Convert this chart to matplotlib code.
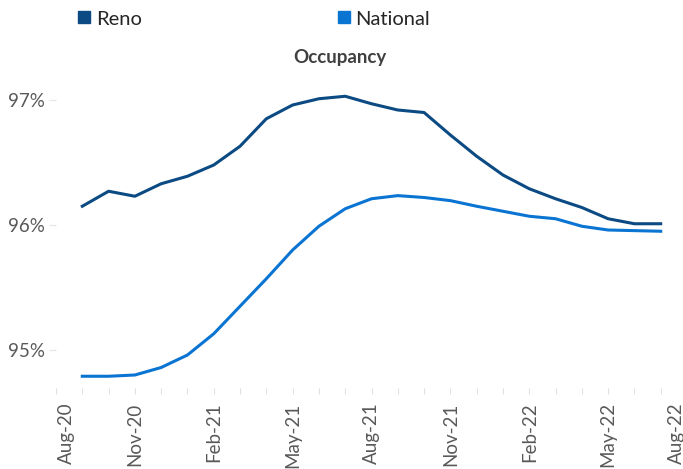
import matplotlib
matplotlib.use('Agg')
import matplotlib.pyplot as plt
import matplotlib.transforms as mtransforms
from matplotlib.lines import Line2D

# months Aug-20 .. Aug-22, data from Sep-20 to Jul-22
month_labels = ['Aug-20', 'Nov-20', 'Feb-21', 'May-21', 'Aug-21',
                'Nov-21', 'Feb-22', 'May-22', 'Aug-22']
label_pos = [0, 3, 6, 9, 12, 15, 18, 21, 24]
months = list(range(1, 24))

reno = [96.15, 96.27, 96.23, 96.33, 96.39, 96.48, 96.63, 96.85, 96.96,
        97.01, 97.03, 96.97, 96.92, 96.90, 96.72, 96.55, 96.40, 96.29,
        96.21, 96.14, 96.05, 96.01, 96.01]
national = [94.79, 94.79, 94.80, 94.86, 94.96, 95.13, 95.35, 95.57, 95.80,
            95.99, 96.13, 96.21, 96.235, 96.22, 96.195, 96.15, 96.11, 96.07,
            96.05, 95.99, 95.96, 95.955, 95.95]

RENO_C = '#0b4a82'
NAT_C = '#0a74d2'
GREY = '#595959'

plt.rcParams['font.family'] = ['Lato', 'DejaVu Sans']

fig = plt.figure(figsize=(6.83, 4.69), dpi=100)
ax = fig.add_axes([56 / 683, 75 / 469, 631 / 683, 319 / 469])

ax.plot(months, reno, color=RENO_C, lw=2.2, solid_joinstyle='round')
ax.plot(months, national, color=NAT_C, lw=2.2, solid_joinstyle='round')

ax.set_xlim(0, 24)
ax.set_ylim(94.648, 97.2)

ax.set_yticks([95, 96, 97])
ax.set_yticklabels(['95%', '96%', '97%'])
ax.set_xticks(label_pos)
ax.set_xticklabels(month_labels, rotation=90)
ax.set_xticks(range(0, 25), minor=True)

ax.tick_params(axis='y', length=5, width=0.8, color='#e6e6e6',
               labelsize=13.5, labelcolor=GREY, pad=3)
ax.tick_params(axis='x', which='both', length=4, width=0.8, color='#e0e0e0',
               labelsize=13.5, labelcolor=GREY, pad=6, direction='in')

for s in ax.spines.values():
    s.set_visible(False)

# keep the edge labels inside the picture
labels = ax.get_xticklabels()
labels[0].set_transform(labels[0].get_transform() +
                        mtransforms.ScaledTranslation(10 / 100, 0, fig.dpi_scale_trans))
labels[-1].set_transform(labels[-1].get_transform() +
                         mtransforms.ScaledTranslation(-11 / 100, 0, fig.dpi_scale_trans))

fig.text(340 / 683, 1 - 57 / 469, 'Occupancy', ha='center', va='center',
         fontsize=13.5, fontweight='bold', color='#404040')

handles = [Line2D([], [], marker='s', ls='none', color=RENO_C, markersize=9),
           Line2D([], [], marker='s', ls='none', color=NAT_C, markersize=9)]
fig.legend(handles, ['Reno', 'National'], ncol=2, frameon=False,
           loc='center left', bbox_to_anchor=(59 / 683, 1 - 19 / 469),
           fontsize=14.5, handletextpad=0.25, columnspacing=9.65,
           handlelength=0.7, labelcolor='#262626')

fig.savefig('out.png', dpi=100)
